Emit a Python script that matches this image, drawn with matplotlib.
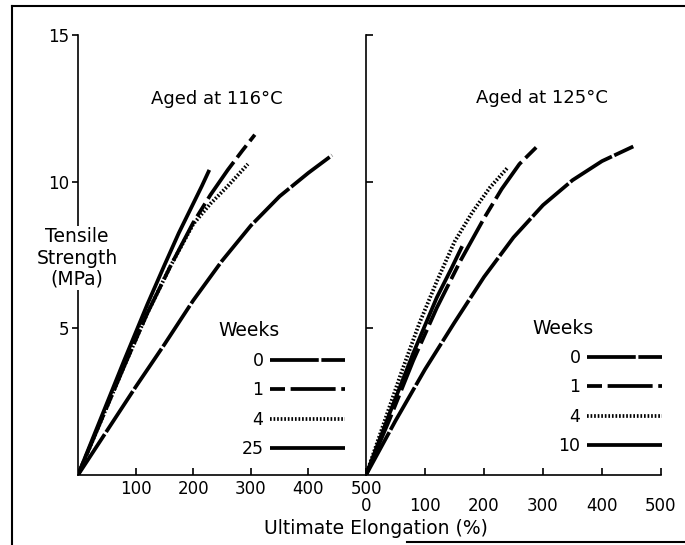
import matplotlib.pyplot as plt
from matplotlib.lines import Line2D

# Ultimate elongation (%) and tensile strength (MPa)
# aged at 116 C
e116_w0 = [0, 50, 100, 150, 200, 250, 300, 350, 400, 441]
s116_w0 = [0, 1.5, 3.0, 4.45, 5.95, 7.3, 8.5, 9.5, 10.3, 10.9]
e116_w1 = [0, 40, 80, 120, 160, 200, 230, 260, 285, 307]
s116_w1 = [0, 1.85, 3.7, 5.5, 7.1, 8.6, 9.55, 10.4, 11.05, 11.6]
e116_w4 = [0, 40, 80, 120, 160, 200, 230, 260, 295]
s116_w4 = [0, 1.85, 3.7, 5.5, 7.1, 8.55, 9.25, 9.85, 10.6]
e116_w25 = [0, 40, 80, 120, 150, 175, 200, 215, 228]
s116_w25 = [0, 1.95, 3.9, 5.8, 7.15, 8.25, 9.25, 9.85, 10.4]

# aged at 125 C
e125_w0 = [0, 50, 100, 150, 200, 250, 300, 350, 400, 453]
s125_w0 = [0, 1.85, 3.6, 5.2, 6.75, 8.1, 9.2, 10.05, 10.7, 11.2]
e125_w1 = [0, 40, 80, 120, 160, 200, 230, 260, 290]
s125_w1 = [0, 1.9, 3.9, 5.7, 7.3, 8.75, 9.75, 10.6, 11.2]
e125_w4 = [0, 30, 60, 90, 120, 150, 180, 210, 241]
s125_w4 = [0, 1.75, 3.5, 5.15, 6.6, 7.95, 8.95, 9.8, 10.5]
e125_w10 = [0, 40, 80, 120, 145, 163]
s125_w10 = [0, 2.1, 4.15, 6.05, 7.05, 7.8]

weeks_116 = ['0', '1', '4', '25']
weeks_125 = ['0', '1', '4', '10']
x_ticks = [0, 100, 200, 300, 400, 500]
y_ticks = [5, 10, 15]

W, H = 685, 545
LW = 2.7
styles = [(0, (13, 0.7)), (0, (4, 1.5, 12, 1.5)), (0, (0.45, 0.5)), '-']


def fx(px):
    return px / W


def fy(py):
    return 1 - py / H


fig = plt.figure(figsize=(W / 100, H / 100), dpi=100)
ax1 = fig.add_axes([fx(78), fy(475), (366 - 78) / W, 440 / H])
ax2 = fig.add_axes([fx(366), fy(475), (661 - 366) / W, 440 / H])

panels = [
    (ax1, [(e116_w0, s116_w0), (e116_w1, s116_w1), (e116_w4, s116_w4), (e116_w25, s116_w25)], weeks_116),
    (ax2, [(e125_w0, s125_w0), (e125_w1, s125_w1), (e125_w4, s125_w4), (e125_w10, s125_w10)], weeks_125),
]

legend_anchor = [(345, 352), (662, 349)]
for (ax, series, wk), anchor in zip(panels, legend_anchor):
    handles = []
    for (x, y), ls in zip(series, styles):
        ln, = ax.plot(x, y, color='black', lw=LW, linestyle=ls,
                      solid_capstyle='butt', solid_joinstyle='round')
        handles.append(ln)
    ax.set_xlim(0, 500)
    ax.set_ylim(0, 15)
    for s in ['top', 'right']:
        ax.spines[s].set_visible(False)
    for s in ['left', 'bottom']:
        ax.spines[s].set_linewidth(1.2)
    ax.set_yticks(y_ticks)
    ax.legend(handles, wk, loc='upper right', bbox_to_anchor=(fx(anchor[0]), fy(anchor[1])),
              bbox_transform=fig.transFigure, markerfirst=False, frameon=False,
              handlelength=4.3, handletextpad=0.4, labelspacing=0.66,
              borderpad=0, borderaxespad=0, fontsize=12.5)

ax1.set_xticks(x_ticks[1:])
ax1.tick_params(axis='x', direction='in', length=5, width=1.2, pad=3.5, labelsize=12)
ax1.tick_params(axis='y', direction='out', length=4, width=1.2, pad=2, labelsize=12)

ax2.set_xticks(x_ticks)
ax2.tick_params(axis='x', direction='in', length=5, width=1.2, pad=16, labelsize=12)
ax2.tick_params(axis='y', direction='in', length=5, width=1.2, labelleft=False)

fig.text(fx(217), fy(99), 'Aged at 116°C', ha='center', va='center', fontsize=13)
fig.text(fx(542), fy(98), 'Aged at 125°C', ha='center', va='center', fontsize=13)
fig.text(fx(77), fy(258), 'Tensile\nStrength\n(MPa)', ha='center', va='center', fontsize=13.5,
         linespacing=1.15, bbox=dict(facecolor='white', edgecolor='none', pad=1))
fig.text(fx(376), fy(529), 'Ultimate Elongation (%)', ha='center', va='center', fontsize=13.5)
fig.text(fx(218), fy(330), 'Weeks', ha='left', va='center', fontsize=13.5)
fig.text(fx(532), fy(328), 'Weeks', ha='left', va='center', fontsize=13.5)

# outer frame of the scanned figure
fig.add_artist(Line2D([fx(12), fx(12)], [fy(6), 0], transform=fig.transFigure, color='black', lw=1.5))
fig.add_artist(Line2D([fx(12), 1], [fy(6), fy(6)], transform=fig.transFigure, color='black', lw=1.5))
fig.add_artist(Line2D([fx(407), 1], [fy(542), fy(542)], transform=fig.transFigure, color='black', lw=1.5))

fig.savefig('out.png', dpi=100)
